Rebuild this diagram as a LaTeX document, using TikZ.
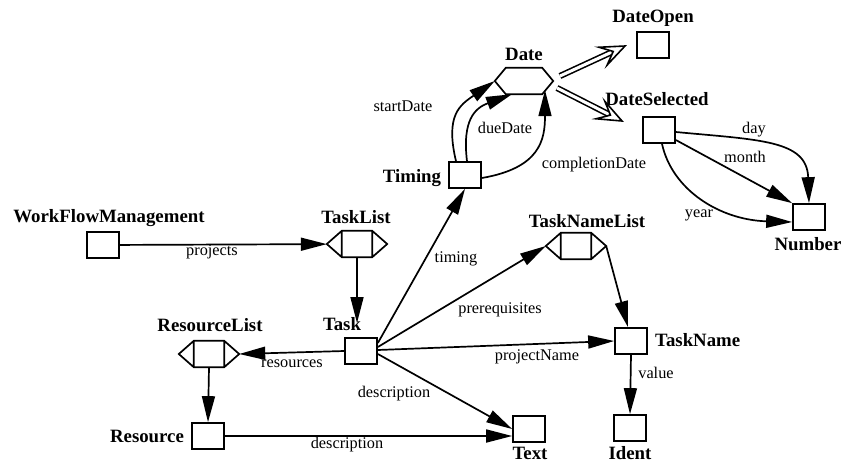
\documentclass[tikz,border=0pt]{standalone}
\usepackage{fontspec}
\setmainfont{Liberation Serif}
\usetikzlibrary{arrows.meta,calc}
\newcommand\inhArrow[2]{%
  \draw[line width=1.6pt, double, double distance=3pt, shorten >=15pt] (#1) -- (#2);
  \draw[line width=1.6pt, fill=white, line join=miter] (#2) -- ($(#2)!26pt!22:(#1)$) -- ($(#2)!13pt!(#1)$) -- ($(#2)!26pt!-22:(#1)$) -- cycle;}
\begin{document}
\begin{tikzpicture}[x=1pt,y=-1pt,
  boxline/.style={line width=1.7pt},
  box/.style={draw, boxline, fill=white, minimum width=32pt, minimum height=26pt, inner sep=0pt},
  lst/.style={minimum width=60pt, minimum height=26pt, inner sep=0pt,
    append after command={\pgfextra{\draw[boxline]
      ([xshift=15pt]\tikzlastnode.north west) -- ([xshift=-15pt]\tikzlastnode.north east) -- (\tikzlastnode.east) -- ([xshift=-15pt]\tikzlastnode.south east) -- ([xshift=15pt]\tikzlastnode.south west) -- (\tikzlastnode.west) -- cycle
      ([xshift=15pt]\tikzlastnode.north west) -- ([xshift=15pt]\tikzlastnode.south west)
      ([xshift=-15pt]\tikzlastnode.north east) -- ([xshift=-15pt]\tikzlastnode.south east);}}},
  hexb/.style={minimum width=58pt, minimum height=26pt, inner sep=0pt,
    append after command={\pgfextra{\draw[boxline]
      ([xshift=11pt]\tikzlastnode.north west) -- ([xshift=-11pt]\tikzlastnode.north east) -- (\tikzlastnode.east) -- ([xshift=-11pt]\tikzlastnode.south east) -- ([xshift=11pt]\tikzlastnode.south west) -- (\tikzlastnode.west) -- cycle;}}},
  nm/.style={font=\bfseries\fontsize{18.8}{20}\selectfont, inner sep=0pt, anchor=base},
  el/.style={font=\fontsize{16.3}{18}\selectfont, inner sep=0pt, anchor=base},
  arr/.style={line width=1.7pt, -{Triangle[length=26pt,width=13pt]}}
]
\useasboundingbox (0,0) rectangle (846,464);

% nodes
\node[box] (wfm) at (103,245) {};
\node[lst] (tl) at (357,244) {};
\node[box] (task) at (361,351) {};
\node[lst] (rl) at (209,354) {};
\node[box] (res) at (208,436) {};
\node[box] (text) at (529,429) {};
\node[box] (timing) at (465,175) {};
\node[hexb] (date) at (524,81) {};
\node[box] (dopen) at (653,45) {};
\node[box] (dsel) at (659,130) {};
\node[box] (num) at (809,217) {};
\node[lst] (tnl) at (576,246) {};
\node[box] (tname) at (631,341) {};
\node[box] (ident) at (630,428) {};

% node labels
\node[nm] (wfmL) at (109,222) {WorkFlowManagement};
\node[nm] (tlL) at (356,223) {TaskList};
\node[nm] (taskL) at (342,330) {Task};
\node[nm] (rlL) at (210,331) {ResourceList};
\node[nm] (resL) at (147,442) {Resource};
\node[nm] (textL) at (530,459) {Text};
\node[nm] (timingL) at (412,182) {Timing};
\node[nm] (dateL) at (524,60) {Date};
\node[nm] (dopenL) at (653,22) {DateOpen};
\node[nm] (dselL) at (657,105) {DateSelected};
\node[nm] (numL) at (808,250) {Number};
\node[nm] (tnlL) at (587,227) {TaskNameList};
\node[nm, anchor=base west] (tnameL) at (655,346) {TaskName};
\node[nm] (identL) at (630,459) {Ident};

\coordinate (taskTop) at (357,323);

% connectors
\draw[arr] (wfm) -- (tl);
\draw[arr] (tl.south -| taskTop) -- (taskTop);
\draw[arr] (task.west) -- (rl.east);
\draw[arr] (rl.south) -- (res.north);
\draw[arr] (res.east) -- (res.east -| text.west);
\draw[arr] ([yshift=-3pt]task.east) -- (text.west);
\draw[arr] ([yshift=8pt]task.east) -- (timing.south);
\draw[arr] ([yshift=4pt]task.east) -- (tnl.west);
\draw[arr] ([yshift=1pt]task.east) -- (tname.west);
\draw[arr] (tnl.east) -- ([xshift=-3pt]tname.north);
\draw[arr] (tname.south) -- (ident.north);

\draw[arr] ([xshift=-9pt]timing.north) .. controls (445,115) and (460,105) .. (date.west);
\draw[arr] ([xshift=2pt]timing.north) .. controls (462,120) and (475,108) .. ([xshift=-12pt]date.south);
\draw[arr] ([yshift=-3pt]timing.east) .. controls (540,168) and (545,140) .. ([xshift=21pt,yshift=4pt]date.south);

\draw[arr] ([yshift=-2pt]dsel.east) .. controls (760,140) and (807,140) .. (num.north);
\draw[arr] ([yshift=-10pt]dsel.east) -- (num.north west);
\draw[arr] ([xshift=3pt]dsel.south) .. controls (672,190) and (720,220) .. ([yshift=-5pt]num.west);

\coordinate (i1s) at (560,76);
\coordinate (i1t) at (625,46);
\coordinate (i2s) at (557,88);
\coordinate (i2t) at (622,121);
\inhArrow{i1s}{i1t}
\inhArrow{i2s}{i2t}

% edge labels
\node[el] at (212,255) {projects};
\node[el] at (292,367) {resources};
\node[el] at (394,397) {description};
\node[el] at (347,448) {description};
\node[el] at (456,262) {timing};
\node[el] at (500,313) {prerequisites};
\node[el] at (537,360) {projectName};
\node[el] at (656,378) {value};
\node[el] at (403,111) {startDate};
\node[el] at (505,133) {dueDate};
\node[el] at (594,168) {completionDate};
\node[el] at (754,133) {day};
\node[el] at (745,162) {month};
\node[el] at (699,217) {year};
\end{tikzpicture}
\end{document}
